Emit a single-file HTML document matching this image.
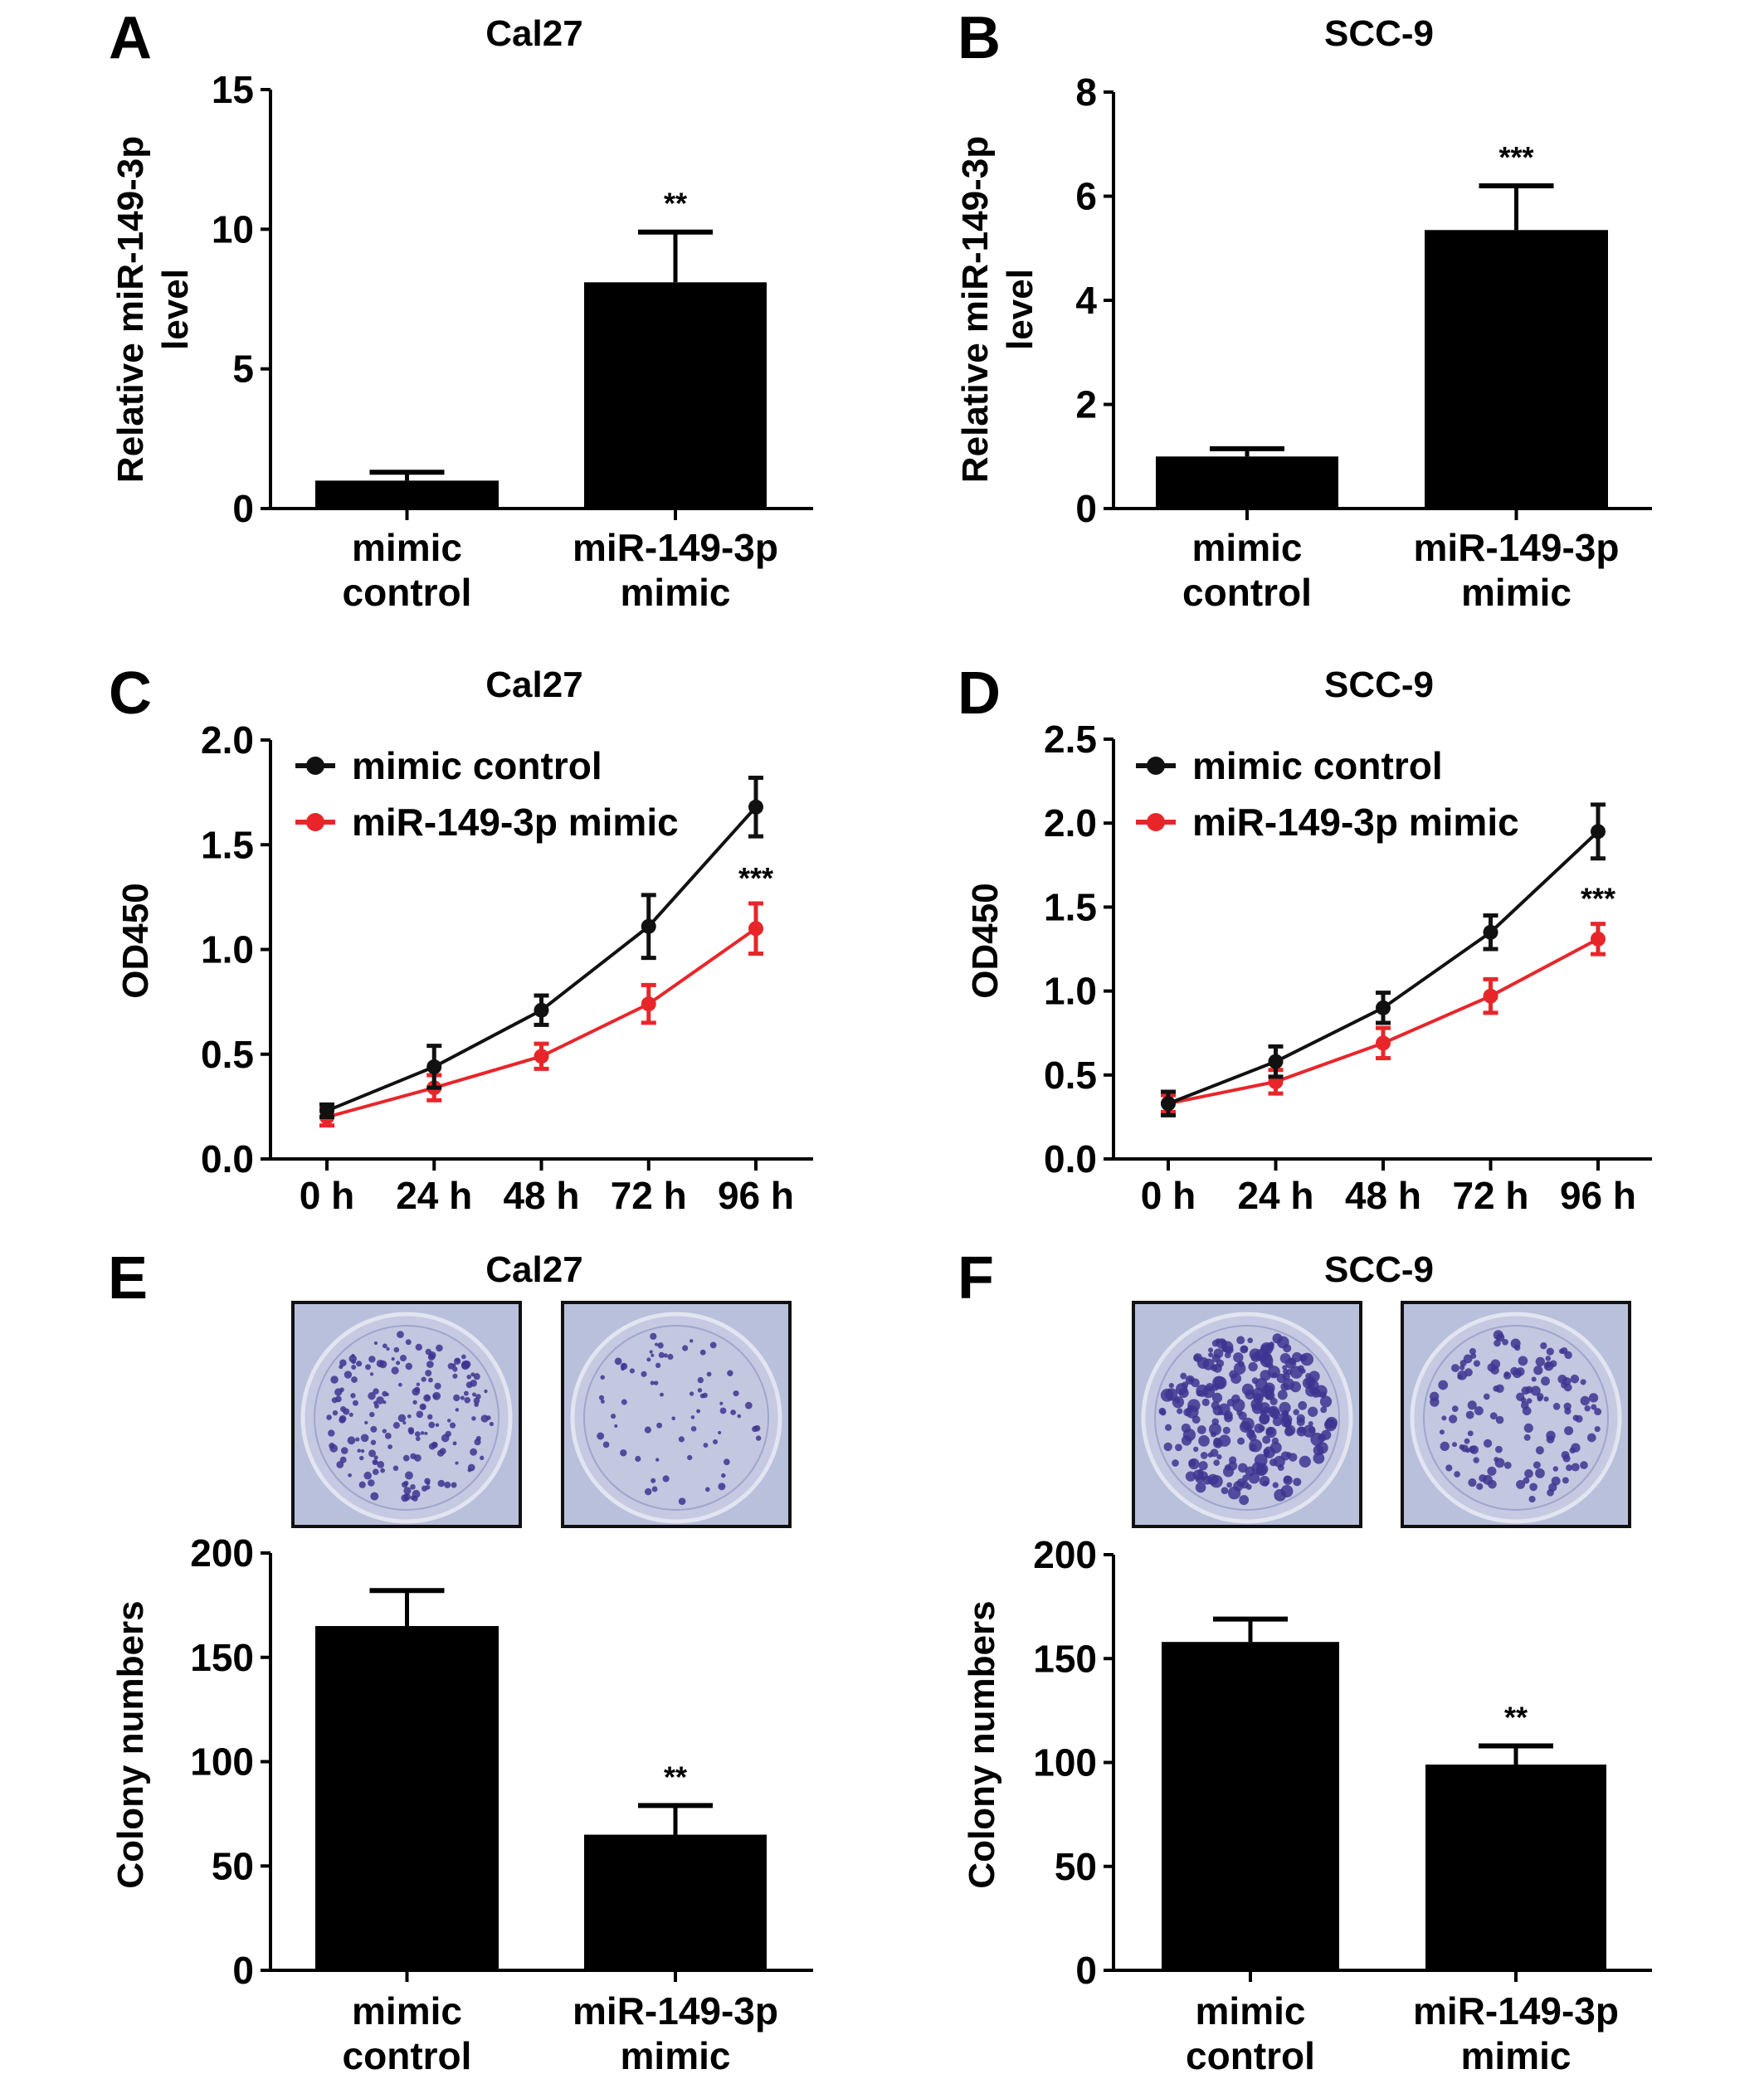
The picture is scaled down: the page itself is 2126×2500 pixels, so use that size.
<!DOCTYPE html>
<html><head><meta charset="utf-8"><style>
html,body{margin:0;padding:0;background:#fff;}
svg{display:block;}
text{font-family:"Liberation Sans",Arial,sans-serif;font-weight:bold;fill:#000;}
</style></head><body>
<svg id="fig" width="2126" height="2500" viewBox="0 0 2126 2500" xmlns="http://www.w3.org/2000/svg"></svg>
<script>
// ---- data ----
const barCategories = [["mimic","control"],["miR-149-3p","mimic"]];
const aValues = [1.0, 8.1];
const aErrors = [0.3, 1.8];
const bValues = [1.0, 5.35];
const bErrors = [0.15, 0.85];
const eValues = [165, 65];
const eErrors = [17, 14];
const fValues = [158, 99];
const fErrors = [11, 9];
const timeLabels = ["0 h","24 h","48 h","72 h","96 h"];
const cControl = [0.23, 0.44, 0.71, 1.11, 1.68];
const cControlErr = [0.03, 0.10, 0.07, 0.15, 0.14];
const cMimic = [0.20, 0.34, 0.49, 0.74, 1.10];
const cMimicErr = [0.04, 0.06, 0.06, 0.09, 0.12];
const dControl = [0.33, 0.58, 0.90, 1.35, 1.95];
const dControlErr = [0.07, 0.09, 0.09, 0.10, 0.16];
const dMimic = [0.33, 0.46, 0.69, 0.97, 1.31];
const dMimicErr = [0.05, 0.07, 0.09, 0.10, 0.09];
const aTicks = [0,5,10,15];
const bTicks = [0,2,4,6,8];
const cTicks = [0.0,0.5,1.0,1.5,2.0];
const dTicks = [0.0,0.5,1.0,1.5,2.0,2.5];
const colonyTicks = [0,50,100,150,200];

const NS="http://www.w3.org/2000/svg";
const svg=document.getElementById('fig');
function el(tag,attrs,parent,txt){
  const e=document.createElementNS(NS,tag);
  for(const k in attrs)e.setAttribute(k,attrs[k]);
  if(txt!==undefined)e.textContent=txt;
  (parent||svg).appendChild(e);return e;
}
function group(name,parent){
  const g=document.createElementNS(NS,'g');
  
  
  (parent||svg).appendChild(g);return g;
}
function label(x,y,s,size,name,anchor,parent,rot){
  const t=el('text',{x:x,y:y,'font-size':size,'text-anchor':anchor||'middle'},parent,s);
  if(rot)t.setAttribute('transform','rotate(-90 '+x+' '+y+')');
  
  
  return t;
}
function yAxis(g,x0,x1,yTop,yBot,min,max,ticks,fmt){
  const ys=v=>yBot-(v-min)/(max-min)*(yBot-yTop);
  const ax=el('line',{x1:x0,y1:yTop,x2:x0,y2:yBot+2,stroke:'#000','stroke-width':4},g);
  
  
  const bx=el('line',{x1:x0-2,y1:yBot,x2:x1,y2:yBot,stroke:'#000','stroke-width':4},g);
  
  
  ticks.forEach(t=>{
    const y=ys(t);
    el('line',{x1:x0-12,y1:y,x2:x0,y2:y,stroke:'#000','stroke-width':4},g);
    label(x0-20,y+16,fmt?fmt(t):String(t),46,'y-tick-label','end',g);
  });
  return ys;
}
function barChart(o){
  const g=group(o.name);
  const ys=yAxis(g,o.x0,o.x1,o.yTop,o.yBot,0,o.max,o.ticks);
  label(o.titleX,o.titleY,o.title,44,'chart-title','middle',g);
  o.values.forEach((v,i)=>{
    const [bl,br]=o.bars[i];const cx=(bl+br)/2;
    const b=el('rect',{x:bl,y:ys(v),width:br-bl,height:o.yBot-ys(v),fill:'#000'},g);
    
    
    const top=ys(v+o.errors[i]);
    el('line',{x1:cx,y1:ys(v),x2:cx,y2:top,stroke:'#000','stroke-width':5},g);
    el('line',{x1:cx-45,y1:top,x2:cx+45,y2:top,stroke:'#000','stroke-width':6},g);
    el('line',{x1:cx,y1:o.yBot,x2:cx,y2:o.yBot+14,stroke:'#000','stroke-width':4},g);
    label(cx,o.catY1,barCategories[i][0],46,'x-category-label','middle',g);
    label(cx,o.catY2,barCategories[i][1],46,'x-category-label','middle',g);
    if(o.stars[i])label(cx,top-22,o.stars[i],36,'significance-marker','middle',g);
  });
  o.ytitle.forEach((t,k)=>label(o.ytX[k],o.ytY,t,44,'y-axis-title','middle',g,true));
}
function lineChart(o){
  const g=group(o.name);
  const ys=yAxis(g,o.x0,o.x1,o.yTop,o.yBot,0,o.max,o.ticks,t=>t.toFixed(1));
  label(o.titleX,o.titleY,o.title,44,'chart-title','middle',g);
  const xs=i=>o.xFirst+i*(o.xLast-o.xFirst)/(timeLabels.length-1);
  timeLabels.forEach((t,i)=>{
    el('line',{x1:xs(i),y1:o.yBot,x2:xs(i),y2:o.yBot+14,stroke:'#000','stroke-width':4},g);
    label(xs(i),o.yBot+60,t,46,'x-tick-label','middle',g);
  });
  const series=[[o.ctrl,o.ctrlErr,'#111','series-mimic-control'],[o.mim,o.mimErr,'#e8262a','series-mir-149-3p-mimic']];
  series.slice().reverse().forEach(([vals,errs,col,nm])=>{
    const sg=group(nm,g);
    const pts=vals.map((v,i)=>xs(i)+','+ys(v)).join(' ');
    el('polyline',{points:pts,fill:'none',stroke:col,'stroke-width':4},sg);
    vals.forEach((v,i)=>{
      const x=xs(i);
      el('line',{x1:x,y1:ys(v-errs[i]),x2:x,y2:ys(v+errs[i]),stroke:col,'stroke-width':5},sg);
      el('line',{x1:x-9,y1:ys(v+errs[i]),x2:x+9,y2:ys(v+errs[i]),stroke:col,'stroke-width':5},sg);
      el('line',{x1:x-9,y1:ys(v-errs[i]),x2:x+9,y2:ys(v-errs[i]),stroke:col,'stroke-width':5},sg);
      const p=el('circle',{cx:x,cy:ys(v),r:9,fill:col},sg);
      
      
    });
  });
  label(xs(4),ys(o.mim[4]+o.mimErr[4])-18,'***',36,'significance-marker','middle',g);
  const leg=[['mimic control','#111',o.legY1],['miR-149-3p mimic','#e8262a',o.legY2]];
  leg.forEach(([t,c,y])=>{
    const lg=group('legend-entry',g);
    el('line',{x1:o.legX-24,y1:y,x2:o.legX+24,y2:y,stroke:c,'stroke-width':6},lg);
    el('circle',{cx:o.legX,cy:y,r:11,fill:c},lg);
    label(o.legX+44,y+16,t,46,'legend-label','start',lg);
  });
  label(o.ytX,o.ytY,'OD450',44,'y-axis-title','middle',g,true);
}
// seeded pseudo-random for plate decoration only
let seed=7;function rnd(){seed=(seed*16807)%2147483647;return seed/2147483647;}
function plate(x,y,w,h,n,rmin,rmax,name){
  const g=group(name);
  el('rect',{x:x,y:y,width:w,height:h,fill:'#b9c0dc',stroke:'#111','stroke-width':4},g);
  const cx=x+w/2,cy=y+h/2+4,R=Math.min(w,h)/2-10;
  el('circle',{cx:cx,cy:cy,r:R,fill:'#c5c9e2',stroke:'#e2e4f0','stroke-width':5},g);
  el('circle',{cx:cx,cy:cy,r:R-14,fill:'#c3c7e0',stroke:'#9fa6cc','stroke-width':2},g);
  for(let i=0;i<n;i++){
    const a=rnd()*Math.PI*2,d=Math.sqrt(rnd())*(R-22);
    el('circle',{cx:cx+Math.cos(a)*d,cy:cy+Math.sin(a)*d,r:rmin+rnd()*(rmax-rmin),fill:'#3d3590','fill-opacity':0.85},g);
  }
}
// panel letters
[['A',157,70],['B',1180,70],['C',157,860],['D',1180,860],['E',154,1565],['F',1176,1565]].forEach(([t,x,y])=>label(x,y,t,72,'panel-label-'+t.toLowerCase(),'middle'));

barChart({name:'panel-a-chart',x0:326,x1:980,yTop:108,yBot:613,max:15,ticks:aTicks,values:aValues,errors:aErrors,
  bars:[[380,601],[704,924]],title:'Cal27',titleX:644,titleY:55,catY1:676,catY2:730,stars:['','**'],
  ytitle:['Relative miR-149-3p','level'],ytX:[172,226],ytY:373});
barChart({name:'panel-b-chart',x0:1342,x1:1991,yTop:111,yBot:613,max:8,ticks:bTicks,values:bValues,errors:bErrors,
  bars:[[1393,1613],[1717,1938]],title:'SCC-9',titleX:1662,titleY:55,catY1:676,catY2:730,stars:['','***'],
  ytitle:['Relative miR-149-3p','level'],ytX:[1190,1244],ytY:373});
lineChart({name:'panel-c-chart',x0:326,x1:980,yTop:892,yBot:1397,max:2.0,ticks:cTicks,xFirst:394,xLast:911,
  ctrl:cControl,ctrlErr:cControlErr,mim:cMimic,mimErr:cMimicErr,title:'Cal27',titleX:644,titleY:840,
  legX:380,legY1:923,legY2:991,ytX:178,ytY:1134});
lineChart({name:'panel-d-chart',x0:1342,x1:1991,yTop:891,yBot:1397,max:2.5,ticks:dTicks,xFirst:1408,xLast:1926,
  ctrl:dControl,ctrlErr:dControlErr,mim:dMimic,mimErr:dMimicErr,title:'SCC-9',titleX:1662,titleY:840,
  legX:1393,legY1:923,legY2:991,ytX:1202,ytY:1134});
plate(353,1570,274,270,180,2,5,'colony-plate-cal27-control');
plate(678,1570,274,270,70,2,4.5,'colony-plate-cal27-mimic');
plate(1366,1570,274,270,260,3,8,'colony-plate-scc9-control');
plate(1690,1570,274,270,130,3,6,'colony-plate-scc9-mimic');
barChart({name:'panel-e-chart',x0:326,x1:980,yTop:1872,yBot:2375,max:200,ticks:colonyTicks,values:eValues,errors:eErrors,
  bars:[[380,601],[704,924]],title:'Cal27',titleX:644,titleY:1545,catY1:2440,catY2:2494,stars:['','**'],
  ytitle:['Colony numbers'],ytX:[172],ytY:2103});
barChart({name:'panel-f-chart',x0:1342,x1:1991,yTop:1874,yBot:2375,max:200,ticks:colonyTicks,values:fValues,errors:fErrors,
  bars:[[1400,1614],[1718,1936]],title:'SCC-9',titleX:1662,titleY:1545,catY1:2440,catY2:2494,stars:['','**'],
  ytitle:['Colony numbers'],ytX:[1198],ytY:2103});
</script>
</body></html>
